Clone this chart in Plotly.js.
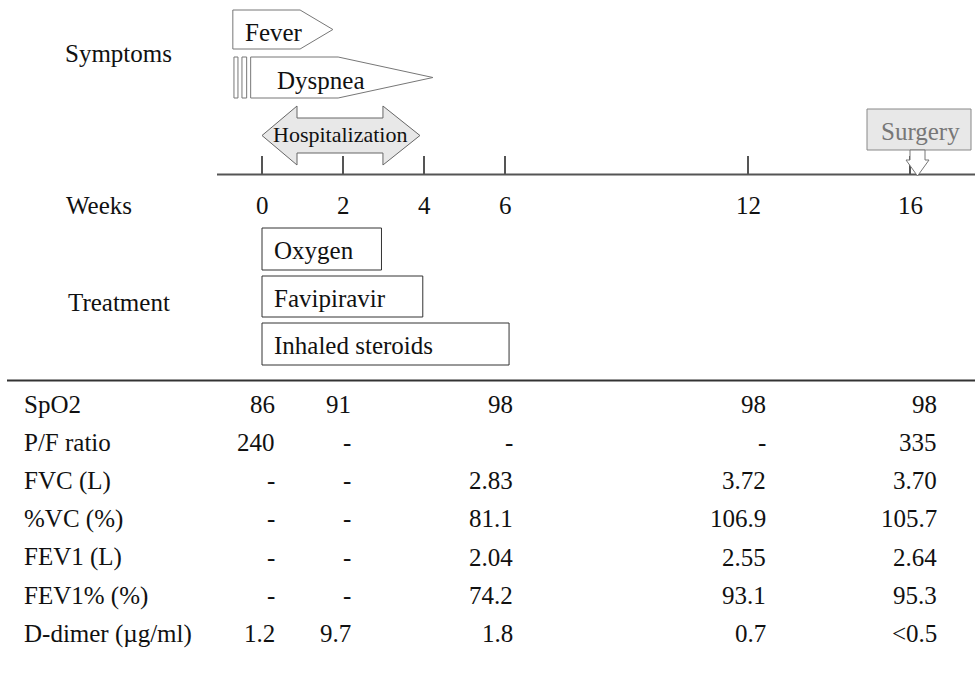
<!DOCTYPE html>
<html><head><meta charset="utf-8">
<script src="https://cdn.plot.ly/plotly-3.0.1.min.js"></script>
<style>html,body{margin:0;padding:0;background:#fff}#chart{width:975px;height:676px}</style>
</head><body><div id="chart"></div>
<script>
// ---- data ----
const weekTicks = [0, 2, 4, 6, 12, 16];
const symptomNames = ['Fever', 'Dyspnea'];
const symptomStart = [-0.72, -0.28];
const symptomBodyEnd = [0.94, 1.88];
const symptomEnd = [1.75, 4.22];
const hospitalization = [0, 3.9];
const treatmentNames = ['Oxygen', 'Favipiravir', 'Inhaled steroids'];
const treatmentStart = [0, 0, 0];
const treatmentEnd = [2.95, 3.97, 6.1];
const surgeryWeek = 16;
const tableWeeks = [0, 2, 6, 12, 16];
const rowLabels = ['SpO2', 'P/F ratio', 'FVC (L)', '%VC (%)', 'FEV1 (L)', 'FEV1% (%)', 'D-dimer (\u00b5g/ml)'];
const spo2 = ['86', '91', '98', '98', '98'];
const pfRatio = ['240', '-', '-', '-', '335'];
const fvc = ['-', '-', '2.83', '3.72', '3.70'];
const pctVC = ['-', '-', '81.1', '106.9', '105.7'];
const fev1 = ['-', '-', '2.04', '2.55', '2.64'];
const fev1pct = ['-', '-', '74.2', '93.1', '95.3'];
const dDimer = ['1.2', '9.7', '1.8', '0.7', '<0.5'];
const tableValues = [spo2, pfRatio, fvc, pctVC, fev1, fev1pct, dDimer];

// ---- layout helpers (pixel scale: 40.5 px per week, week 0 at 262px) ----
const PXW = 40.5, X0 = 262, W = 975, H = 676;
const xr = [-X0 / PXW, (W - X0) / PXW];
const px = p => (p - X0) / PXW;     // pixel -> week coordinate
const dpx = d => d / PXW;           // pixel offset -> week offset
const FONT = '"Liberation Serif", "Times New Roman", Times, serif';
const FS = 25;
const shapes = [], ann = [];
const txt = (text, x, y, opt = {}) => ann.push(Object.assign({
  x, y, xref: 'x', yref: 'y', text, showarrow: false, xanchor: 'left', yanchor: 'middle',
  font: {family: FONT, size: FS, color: '#111'}
}, opt));

// row labels
txt('Symptoms', px(63), 53);
txt('Weeks', px(64), 205);
txt('Treatment', px(66), 302);

// symptoms
const symTop = [10, 57], symBot = [49, 98];
symptomNames.forEach((n, i) => {
  const x0 = symptomStart[i], xb = symptomBodyEnd[i], xt = symptomEnd[i];
  const t = symTop[i], b = symBot[i], m = (t + b) / 2;
  shapes.push({type: 'path', xref: 'x', yref: 'y',
    path: `M ${x0},${t} L ${xb},${t} L ${xt},${m} L ${xb},${b} L ${x0},${b} Z`,
    line: {color: '#777', width: 1}, fillcolor: '#fff'});
  txt(n, x0 + dpx(i === 0 ? 10 : 24), m + 2.5);
});
// dyspnea "break" bars
[[-16.7, -12.7], [-8.7, -4]].forEach(([a, b]) => shapes.push({type: 'rect', xref: 'x', yref: 'y',
  x0: symptomStart[1] + dpx(a), x1: symptomStart[1] + dpx(b), y0: 57, y1: 98,
  line: {color: '#777', width: 1}, fillcolor: '#fff'}));

// hospitalization double arrow
{
  const a = hospitalization[0], b = hospitalization[1];
  const ha = a + dpx(35), hb = b - dpx(37);
  shapes.push({type: 'path', xref: 'x', yref: 'y',
    path: `M ${a},135.5 L ${ha},106 L ${ha},118 L ${hb},118 L ${hb},106 L ${b},135.5 L ${hb},165 L ${hb},153 L ${ha},153 L ${ha},165 Z`,
    line: {color: '#666', width: 1}, fillcolor: '#e8e8e8'});
  txt('Hospitalization', (a + b) / 2 + dpx(-1), 134, {xanchor: 'center', font: {family: FONT, size: 22, color: '#111'}});
}

// timeline axis
shapes.push({type: 'line', xref: 'x', yref: 'y', x0: px(217), x1: xr[1], y0: 174.5, y1: 174.5,
  line: {color: '#555', width: 2}});
weekTicks.forEach(w => {
  shapes.push({type: 'line', xref: 'x', yref: 'y', x0: w, x1: w, y0: 156, y1: 174.5,
    line: {color: '#555', width: 2}});
  txt(String(w), w, 205, {xanchor: 'center'});
});

// surgery
{
  const s = surgeryWeek;
  shapes.push({type: 'rect', xref: 'x', yref: 'y', x0: s + dpx(-43), x1: s + dpx(61), y0: 109, y1: 150,
    line: {color: '#888', width: 1}, fillcolor: '#e8e8e8'});
  const c = s + dpx(7.5);
  shapes.push({type: 'path', xref: 'x', yref: 'y',
    path: `M ${c - dpx(7.5)},150 L ${c - dpx(7.5)},160 L ${c - dpx(11.5)},160 L ${c},176 L ${c + dpx(11.5)},160 L ${c + dpx(7.5)},160 L ${c + dpx(7.5)},150 Z`,
    line: {color: '#777', width: 1}, fillcolor: '#fff'});
  txt('Surgery', s + dpx(10), 131, {xanchor: 'center', font: {family: FONT, size: FS, color: '#777'}});
}

// treatments
const trTop = [228, 276, 323], trBot = [270, 317, 365];
treatmentNames.forEach((n, i) => {
  shapes.push({type: 'rect', xref: 'x', yref: 'y', x0: treatmentStart[i], x1: treatmentEnd[i],
    y0: trTop[i], y1: trBot[i], line: {color: '#333', width: 1}, fillcolor: 'rgba(0,0,0,0)'});
  txt(n, treatmentStart[i] + dpx(10), (trTop[i] + trBot[i]) / 2 + 1.5);
});

// table
shapes.push({type: 'line', xref: 'x', yref: 'y', x0: px(7), x1: xr[1], y0: 380.5, y1: 380.5,
  line: {color: '#333', width: 2}});
const colRight = [277, 353, 515, 768, 939];
rowLabels.forEach((lab, r) => {
  const y = 404 + 38.3 * r;
  txt(lab, px(22), y);
  tableValues[r].forEach((v, c) => {
    txt(v, px(colRight[c]), y, {xanchor: 'right'});
  });
});

const layout = {
  width: W, height: H, margin: {l: 0, r: 0, t: 0, b: 0},
  paper_bgcolor: '#fff', plot_bgcolor: '#fff', showlegend: false,
  xaxis: {range: xr, visible: false, fixedrange: true},
  yaxis: {range: [H, 0], visible: false, fixedrange: true},
  shapes, annotations: ann
};
Plotly.newPlot('chart', [{x: [], y: [], type: 'scatter', mode: 'markers', hoverinfo: 'skip'}], layout,
  {staticPlot: true, displayModeBar: false});
</script></body></html>
